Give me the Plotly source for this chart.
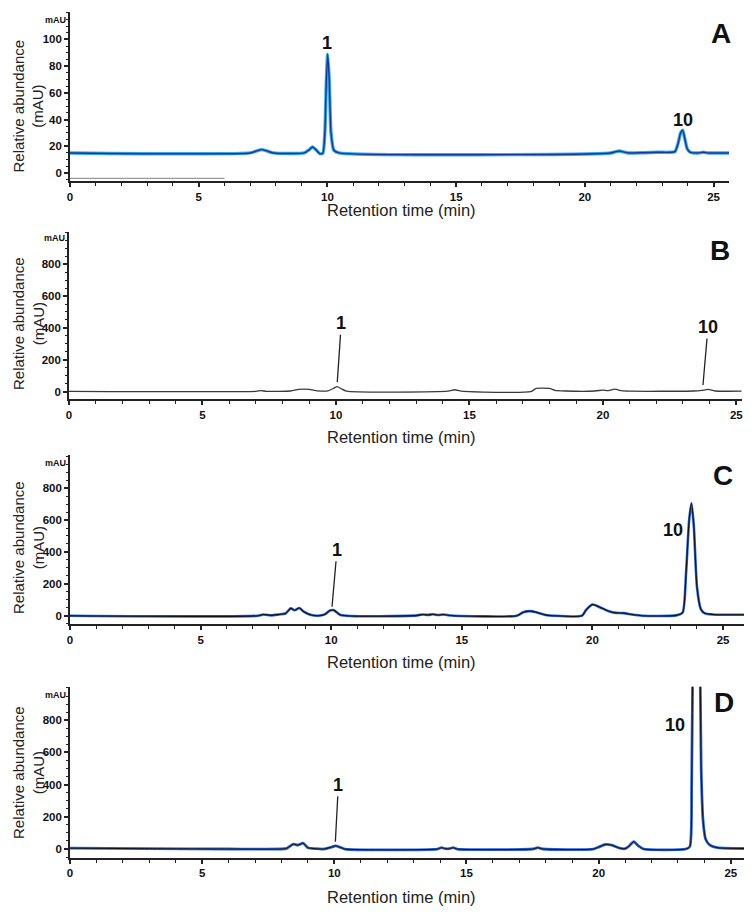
import plotly.graph_objects as go

W, H = 755, 916
OFF = 8  # page body margin offset in the browser

# ---------------- data ----------------
A_time = [0, 7.0, 7.25, 7.45, 7.65, 7.9, 9.1, 9.3, 9.42, 9.55, 9.7, 9.82, 9.9, 9.96, 10.01, 10.07, 10.14, 10.25, 10.45,
          21.0, 21.2, 21.35, 21.5, 21.7, 22.3, 22.8, 23.3, 23.5, 23.62, 23.72, 23.8, 23.88, 23.98, 24.1, 24.4, 24.6, 24.8, 25.6]
A_abs = [15, 15, 16.5, 17.5, 16.5, 15, 15, 17.5, 19.5, 17.5, 14.5, 14.8, 30, 70, 89, 70, 30, 17, 15,
         15, 16, 16.5, 15.8, 15, 15.2, 15.5, 15.5, 16, 22, 30, 32, 26, 18, 15.5, 15, 15.5, 15, 15]
A_ghost_time = [0, 6]
A_ghost_abs = [-4, -4]

B_time = [0, 7.0, 7.2, 7.4, 8.3, 8.6, 9.0, 9.3, 9.7, 9.9, 10.05, 10.2, 10.4, 14.2, 14.45, 14.7, 17.3, 17.5, 18.0,
          18.2, 18.6, 19.7, 20.0, 20.2, 20.45, 20.7, 21.0, 23.4, 23.7, 23.95, 24.2, 25.2]
B_abs = [2, 2, 6, 2, 4, 14, 14, 5, 5, 20, 32, 18, 3, 3, 12, 3, 0, 20, 20,
         8, 4, 4, 10, 6, 16, 6, 3, 4, 8, 14, 4, 3]

C_time = [0, 7.2, 7.4, 7.7, 8.0, 8.25, 8.45, 8.6, 8.78, 8.95, 9.2, 9.5, 9.75, 9.95, 10.1, 10.35, 13.3, 13.5, 13.7,
          13.9, 14.1, 14.3, 14.6, 17.1, 17.35, 17.6, 17.85, 18.2, 18.5, 19.6, 19.75, 20.0, 20.3, 20.6, 20.9, 21.2,
          21.5, 21.9, 23.2, 23.45, 23.58, 23.7, 23.79, 23.88, 24.0, 24.15, 24.3, 24.6, 25.8]
C_abs = [0, 0, 8, 2, 8, 14, 46, 34, 48, 25, 6, 0, 8, 33, 35, 5, 2, 8, 5,
         9, 4, 8, 1, 0, 22, 29, 22, 5, 0, 0, 35, 70, 52, 30, 18, 16,
         8, 0, 2, 20, 260, 600, 705, 560, 180, 40, 15, 8, 6]

D_time = [0, 3, 6, 8.0, 8.2, 8.45, 8.62, 8.82, 9.0, 9.3, 9.6, 9.9, 10.05, 10.2, 10.4, 13.9, 14.05, 14.2, 14.35,
          14.5, 14.65, 17.5, 17.7, 17.9, 19.8, 20.0, 20.25, 20.5, 20.8, 21.0, 21.15, 21.33, 21.5, 21.7, 23.3,
          23.45, 23.52, 23.56, 23.7, 23.84, 23.88, 23.95, 24.05, 24.2, 24.5, 25.5]
D_abs = [5, 2, 0, 0, 4, 30, 24, 36, 8, 2, 0, 12, 20, 12, 0, 0, 8, 2, 2,
         8, 0, 0, 8, 0, 0, 12, 28, 24, 5, 2, 18, 45, 20, 0, 0,
         15, 400, 1100, 1800, 1100, 500, 180, 60, 25, 8, 3]

x_ticks = [0, 5, 10, 15, 20, 25]
yA_ticks = [0, 20, 40, 60, 80, 100]
yBCD_ticks = [0, 200, 400, 600, 800]
panel_letters = ["A", "B", "C", "D"]

# ---------------- layout geometry (screen pixels) ----------------
def px_x(p):
    return (p - OFF) / W

def px_y(p):
    return 1 - (p - OFF) / H

panels = [
    dict(xl=70, xr=729, yt=12, yb=181, xrange=[0, 25.6], yrange=[-6, 120.5]),
    dict(xl=69, xr=741.7, yt=232, yb=399.3, xrange=[0, 25.2], yrange=[-48, 1002]),
    dict(xl=70, xr=744, yt=455, yb=624, xrange=[0, 25.8], yrange=[-52, 1008]),
    dict(xl=70, xr=744, yt=686.7, yb=857.7, xrange=[0, 25.5], yrange=[-54, 1008]),
]

fig = go.Figure()

def add_line(i, x, y, color, width):
    suf = "" if i == 0 else str(i + 1)
    fig.add_trace(go.Scatter(x=x, y=y, mode="lines", xaxis="x" + suf, yaxis="y" + suf,
                             line=dict(color=color, width=width, shape="spline", smoothing=0.6),
                             hoverinfo="skip", showlegend=False))

# Panel A
add_line(0, A_ghost_time, A_ghost_abs, "#9a9a9a", 1.2)
add_line(0, A_time, A_abs, "#3aa8e6", 3.4)
add_line(0, A_time, A_abs, "#123a9c", 1.4)
# Panel B
add_line(1, B_time, B_abs, "#3a3a3a", 1.3)
# Panel C
add_line(2, C_time, C_abs, "#2a62d8", 2.6)
add_line(2, C_time, C_abs, "#111111", 1.1)
# Panel D
add_line(3, D_time, D_abs, "#2a62d8", 2.8)
add_line(3, D_time, D_abs, "#111111", 1.0)

tickfont = dict(family="Liberation Sans, Arial", size=11.5, color="#111", weight="bold")
layout = dict(width=W, height=H, margin=dict(l=0, r=0, t=0, b=0, autoexpand=False),
              paper_bgcolor="white", plot_bgcolor="white", showlegend=False)

for i, p in enumerate(panels):
    suf = "" if i == 0 else str(i + 1)
    xa = dict(domain=[px_x(p["xl"]), px_x(p["xr"])], range=p["xrange"], anchor="y" + suf, automargin=False,
              showline=True, linecolor="#222", linewidth=1.6, showgrid=False, zeroline=False,
              tickmode="array", tickvals=x_ticks, ticktext=[str(t) for t in x_ticks],
              ticks="outside", ticklen=4, tickwidth=1.5, tickcolor="#222", tickfont=tickfont,
              minor=dict(dtick=1, ticks="outside", ticklen=3, tickwidth=1.3, tickcolor="#222"))
    yt = yA_ticks if i == 0 else yBCD_ticks
    ya = dict(domain=[px_y(p["yb"]), px_y(p["yt"])], range=p["yrange"], anchor="x" + suf, automargin=False,
              showline=True, linecolor="#222", linewidth=1.6, showgrid=False, zeroline=False,
              tickmode="array", tickvals=yt, ticktext=[str(t) for t in yt],
              ticks="outside", ticklen=4, tickwidth=1.5, tickcolor="#222", tickfont=tickfont,
              minor=dict(dtick=5 if i == 0 else 50, ticks="outside", ticklen=2, tickwidth=1, tickcolor="#222"))
    layout["xaxis" + suf] = xa
    layout["yaxis" + suf] = ya

fig.update_layout(**layout)

# ---------------- annotations ----------------
ann = []
ytitle_centers = [106.5, 324, 548, 773]
xtitle_y = [210, 437, 662, 897]
letter_pos = [(721, 33), (720, 250), (723, 475), (724, 702)]
mau_vals = [114.5, 964, 958, 956]

for i in range(4):
    suf = "" if i == 0 else str(i + 1)
    ann.append(dict(text="Relative abundance<br>(mAU)", textangle=-90, xref="paper", yref="paper",
                    x=px_x(28), y=px_y(ytitle_centers[i]), xanchor="center", yanchor="middle",
                    showarrow=False, font=dict(family="Liberation Sans, Arial", size=15, color="#222")))
    ann.append(dict(text="Retention time (min)", xref="paper", yref="paper",
                    x=px_x(401), y=px_y(xtitle_y[i]), xanchor="center", yanchor="middle",
                    showarrow=False, font=dict(family="Liberation Sans, Arial", size=16.5, color="#222")))
    ann.append(dict(text="<b>" + panel_letters[i] + "</b>", xref="paper", yref="paper",
                    x=px_x(letter_pos[i][0]), y=px_y(letter_pos[i][1]), xanchor="center", yanchor="middle",
                    showarrow=False, font=dict(family="Liberation Sans, Arial", size=28, color="#111")))
    ann.append(dict(text="<b>mAU</b>", xref="x" + suf + " domain", yref="y" + suf,
                    x=0, y=mau_vals[i], xanchor="right", yanchor="middle", xshift=-2,
                    showarrow=False, font=dict(family="Liberation Sans, Arial", size=9, color="#111")))

pk = dict(family="Liberation Sans, Arial", size=18, color="#111")
ann.append(dict(text="<b>1</b>", xref="x", yref="y", x=10.0, y=97.3, showarrow=False, font=pk))
ann.append(dict(text="<b>10</b>", xref="x", yref="y", x=23.8, y=39.5, showarrow=False, font=pk))
ann.append(dict(text="<b>1</b>", xref="x2", yref="y2", x=10.05, y=60, ax=4, ay=-59,
                showarrow=True, arrowhead=0, arrowwidth=1.3, arrowcolor="#222", font=pk))
ann.append(dict(text="<b>10</b>", xref="x2", yref="y2", x=23.75, y=42, ax=5, ay=-58,
                showarrow=True, arrowhead=0, arrowwidth=1.3, arrowcolor="#222", font=pk))
ann.append(dict(text="<b>1</b>", xref="x3", yref="y3", x=10.03, y=56, ax=5, ay=-57,
                showarrow=True, arrowhead=0, arrowwidth=1.3, arrowcolor="#222", font=pk))
ann.append(dict(text="<b>10</b>", xref="x3", yref="y3", x=23.1, y=538, showarrow=False, font=pk))
ann.append(dict(text="<b>1</b>", xref="x4", yref="y4", x=10.04, y=45, ax=3, ay=-57,
                showarrow=True, arrowhead=0, arrowwidth=1.3, arrowcolor="#222", font=pk))
ann.append(dict(text="<b>10</b>", xref="x4", yref="y4", x=22.9, y=770, showarrow=False, font=pk))

fig.update_layout(annotations=ann)
fig.write_html("out.html")
